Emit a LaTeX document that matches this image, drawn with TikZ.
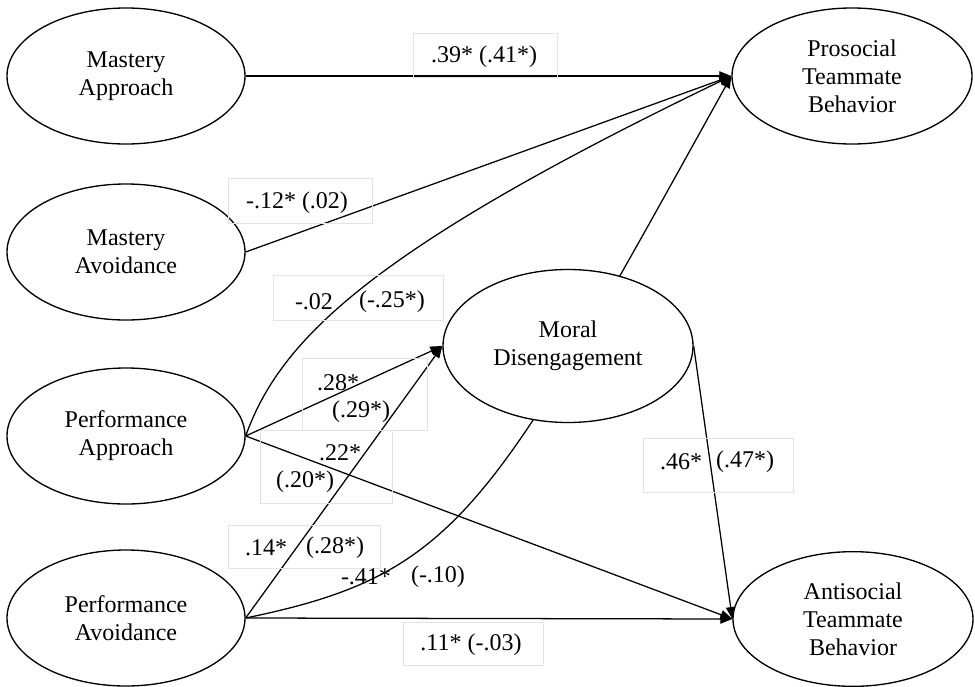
\documentclass[tikz,border=0pt]{standalone}
\usepackage{fontspec}
\setmainfont{Liberation Serif}
\usetikzlibrary{shapes.geometric,arrows.meta,backgrounds}
\begin{document}
\begin{tikzpicture}[x=0.75pt,y=-0.75pt,
  every node/.style={font=\fontsize{18}{21}\selectfont},
  latent/.style={ellipse,draw,line width=1pt,fill=white,inner sep=0pt,
    minimum width=178.5pt,minimum height=102pt,align=center},
  lbox/.style={draw=black!11,line width=0.5pt,inner sep=0pt},
  lbl/.style={inner sep=0pt},
  path/.style={line width=0.95pt,-{Triangle[length=9pt,width=7pt]}},
  plain/.style={line width=0.95pt}]
\useasboundingbox (0,0) rectangle (975,686);
% latent variables
\node[latent] (ma)  at (126,76)  {Mastery\\Approach};
\node[latent] (mav) at (126,252) {Mastery\\Avoidance};
\node[latent] (pa)  at (126,436) {Performance\\Approach};
\node[latent] (pav) at (126,618) {Performance\\Avoidance};
\node[latent,minimum width=180pt] (pro) at (852,76) {Prosocial\\Teammate\\Behavior};
\node[latent,minimum width=180pt,minimum height=101pt] (anti) at (853,619) {Antisocial\\Teammate\\Behavior};
\node[latent,minimum width=187.5pt,minimum height=114.75pt] (md) at (568,346) {Moral\\Disengagement};
% paths
\begin{pgfonlayer}{background}
\draw[path] (ma.east) -- (pro.west);
\draw[path] (mav.east) -- (pro.west);
\draw[path] (pa.east) .. controls (280,340) and (370,250) .. (pro.west);
\draw[path] (pav.east) .. controls (460,574) and (490,511) .. (pro.west);
\draw[path] (pa.east) -- (md.west);
\draw[path] (pav.east) -- (md.west);
\draw[path] (pa.east) -- (anti.west);
\draw[path] (pav.east) -- (anti.west);
\draw[path] (md.east) -- (anti.west);
\end{pgfonlayer}
% label boxes
\node[lbox,minimum width=108pt,minimum height=33pt] (b1) at (485,55) {};
\node[lbox,minimum width=108pt,minimum height=33.75pt] (b2) at (300,200.5) {};
\node[lbox,minimum width=127.5pt,minimum height=33.75pt] (b3) at (358,297.5) {};
\node[lbox,minimum width=93.75pt,minimum height=54pt] (b4) at (364.5,394) {};
\node[lbox,minimum width=99pt,minimum height=54.75pt] (b5) at (326,466.5) {};
\node[lbox,minimum width=114pt,minimum height=32.25pt] (b6) at (304,546.5) {};
\node[lbox,minimum width=105pt,minimum height=32.25pt] (b8) at (473,643.5) {};
\node[lbox,minimum width=112.5pt,minimum height=40.5pt] (b9) at (718,465) {};
% label texts
\node[lbl] (t1) at (484,57) {.39* (.41*)};
\node[lbl] (t2) at (297,203) {-.12* (.02)};
\node[lbl] (t3a) at (314,302) {-.02};
\node[lbl] (t3b) at (392,302) {(-.25*)};
\node[lbl] (t4a) at (338,383) {.28*};
\node[lbl] (t4b) at (361,412) {(.29*)};
\node[lbl] (t5a) at (340,453) {.22*};
\node[lbl] (t5b) at (305,482) {(.20*)};
\node[lbl] (t6a) at (266,548) {.14*};
\node[lbl] (t6b) at (335,548) {(.28*)};
\node[lbl] (t7a) at (366,577) {-.41*};
\node[lbl] (t7b) at (438,577) {(-.10)};
\node[lbl] (t8) at (471,645) {.11* (-.03)};
\node[lbl] (t9a) at (681,462) {.46*};
\node[lbl] (t9b) at (745,462) {(.47*)};
\end{tikzpicture}
\end{document}
